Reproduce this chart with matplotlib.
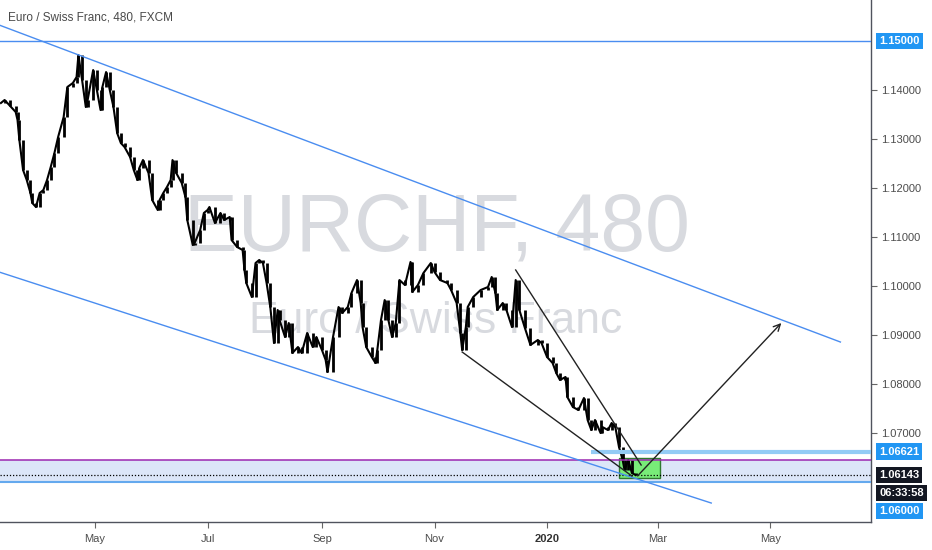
import matplotlib
matplotlib.use("Agg")
import matplotlib.pyplot as plt
import matplotlib.dates as mdates
import matplotlib.transforms as mtransforms
import numpy as np
import pandas as pd

# EURCHF 480-min closes
dates = [
    "2019-03-11", "2019-03-13", "2019-03-16", "2019-03-19", "2019-03-20", "2019-03-21",
    "2019-03-23", "2019-03-25", "2019-03-27", "2019-03-28", "2019-03-30", "2019-04-01",
    "2019-04-03", "2019-04-05", "2019-04-07", "2019-04-09", "2019-04-11", "2019-04-14",
    "2019-04-16", "2019-04-19", "2019-04-21", "2019-04-22", "2019-04-24", "2019-04-26",
    "2019-04-27", "2019-04-30", "2019-05-02", "2019-05-04", "2019-05-05", "2019-05-07",
    "2019-05-09", "2019-05-11", "2019-05-13", "2019-05-15", "2019-05-17", "2019-05-20",
    "2019-05-22", "2019-05-24", "2019-05-25", "2019-05-27", "2019-05-30", "2019-06-01",
    "2019-06-04", "2019-06-05", "2019-06-07", "2019-06-09", "2019-06-11", "2019-06-12",
    "2019-06-14", "2019-06-17", "2019-06-19", "2019-06-20", "2019-06-23", "2019-06-24",
    "2019-06-27", "2019-06-29", "2019-07-01", "2019-07-02", "2019-07-05", "2019-07-08",
    "2019-07-10", "2019-07-13", "2019-07-14", "2019-07-17", "2019-07-20", "2019-07-21",
    "2019-07-22", "2019-07-25", "2019-07-27", "2019-07-29", "2019-07-31", "2019-08-02",
    "2019-08-04", "2019-08-06", "2019-08-08", "2019-08-09", "2019-08-12", "2019-08-14",
    "2019-08-16", "2019-08-19", "2019-08-21", "2019-08-24", "2019-08-27", "2019-08-29",
    "2019-09-01", "2019-09-03", "2019-09-04", "2019-09-07", "2019-09-10", "2019-09-12",
    "2019-09-15", "2019-09-17", "2019-09-20", "2019-09-22", "2019-09-23", "2019-09-25",
    "2019-09-28", "2019-09-30", "2019-10-01", "2019-10-03", "2019-10-05", "2019-10-07",
    "2019-10-09", "2019-10-11", "2019-10-13", "2019-10-16", "2019-10-19", "2019-10-20",
    "2019-10-23", "2019-10-26", "2019-10-30", "2019-11-01", "2019-11-04", "2019-11-08",
    "2019-11-10", "2019-11-13", "2019-11-15", "2019-11-16", "2019-11-18", "2019-11-19",
    "2019-11-22", "2019-11-26", "2019-11-30", "2019-12-02", "2019-12-04", "2019-12-05",
    "2019-12-08", "2019-12-10", "2019-12-13", "2019-12-15", "2019-12-17", "2019-12-20",
    "2019-12-23", "2019-12-27", "2019-12-29", "2020-01-01", "2020-01-04", "2020-01-06",
    "2020-01-08", "2020-01-11", "2020-01-12", "2020-01-15", "2020-01-18", "2020-01-21",
    "2020-01-23", "2020-01-25", "2020-01-27", "2020-01-30", "2020-01-31", "2020-02-03",
    "2020-02-05", "2020-02-07", "2020-02-09", "2020-02-11", "2020-02-12", "2020-02-14",
    "2020-02-16", "2020-02-18",
]
closes = [
    1.13735, 1.13796, 1.13673, 1.13551, 1.13388, 1.12980,
    1.12367, 1.12163, 1.11898, 1.11694, 1.11612, 1.11898,
    1.11959, 1.12163, 1.12429, 1.12714, 1.13041, 1.13449,
    1.14061, 1.14143, 1.14265, 1.14714, 1.14204, 1.13653,
    1.13796, 1.14408, 1.14000, 1.13592, 1.14061, 1.14367,
    1.14000, 1.13653, 1.13122, 1.12918, 1.12837, 1.12633,
    1.12367, 1.12163, 1.12408, 1.12571, 1.12306, 1.11755,
    1.11551, 1.11755, 1.11898, 1.12020, 1.12163, 1.12571,
    1.12306, 1.12102, 1.11816, 1.11347, 1.10837, 1.10878,
    1.11143, 1.11490, 1.11551, 1.11612, 1.11286, 1.11490,
    1.11347, 1.11408, 1.10939, 1.10796, 1.10735, 1.10327,
    1.10061, 1.09776, 1.10469, 1.10531, 1.10469, 1.10061,
    1.09571, 1.08837, 1.09510, 1.09306, 1.08959, 1.09245,
    1.08633, 1.08755, 1.08633, 1.09041, 1.08755, 1.08959,
    1.08694, 1.08490, 1.08245, 1.08959, 1.09571, 1.09449,
    1.09571, 1.09857, 1.10122, 1.09653, 1.09163, 1.08755,
    1.08551, 1.08429, 1.08694, 1.09306, 1.09714, 1.09306,
    1.08959, 1.09245, 1.10122, 1.10020, 1.10490, 1.09878,
    1.10020, 1.10265, 1.10469, 1.10286, 1.10122, 1.10061,
    1.09918, 1.09653, 1.09041, 1.08694, 1.09163, 1.09571,
    1.09776, 1.09918, 1.09980, 1.10184, 1.09857, 1.09510,
    1.09653, 1.09510, 1.09163, 1.10122, 1.09510, 1.09143,
    1.08796, 1.08898, 1.08837, 1.08551, 1.08429, 1.08224,
    1.08082, 1.08143, 1.07735, 1.07531, 1.07469, 1.07714,
    1.07265, 1.07061, 1.07265, 1.07000, 1.07122, 1.07061,
    1.07204, 1.07122, 1.06714, 1.06449, 1.06245, 1.06449,
    1.06184, 1.06143,
]

price_ticks = [1.07, 1.08, 1.09, 1.10, 1.11, 1.12, 1.13, 1.14]
time_ticks = ["2019-05-01", "2019-07-01", "2019-09-01", "2019-11-01",
              "2020-01-01", "2020-03-01", "2020-05-01"]
time_labels = ["May", "Jul", "Sep", "Nov", "2020", "Mar", "May"]

# horizontal levels
level_top = 1.15
level_resist = 1.06621
resist_from = "2020-01-25"
zone_top = 1.0645
level_support = 1.06
last_price = 1.06143
countdown = "06:33:58"

# drawings (date, price) endpoints
channel_upper = (["2019-03-10", "2020-06-08"], [1.15327, 1.08857])
channel_lower = (["2019-03-10", "2020-03-30"], [1.10286, 1.05571])
wedge_lower = (["2019-11-16", "2020-02-16"], [1.08653, 1.06122])
wedge_upper = (["2019-12-15", "2020-02-21"], [1.10327, 1.06347])
target_arrow = (["2020-02-18", "2020-05-08"], [1.06082, 1.09286])
box_dates = ["2020-02-09", "2020-03-02"]
box_prices = [1.06082, 1.06490]

FONT = "Liberation Sans"
AXIS_COL = "#4d4d4d"


def d(s):
    return mdates.date2num(pd.Timestamp(s))


fig = plt.figure(figsize=(9.32, 5.5), dpi=100)
ax = fig.add_axes([0, 28 / 550, 871 / 932, 522 / 550])
ax.set_facecolor("white")

ax.set_xlim(d("2019-03-10 12:00"), d("2020-06-24 14:00"))
ax.set_ylim(1.05184, 1.15837)

# watermark
ax.text(0.502, 0.521, "EURCHF, 480", transform=ax.transAxes, ha="center",
        va="baseline", fontsize=58, color="#d8dadf", family=FONT, zorder=0)
ax.text(0.5, 0.362, "Euro / Swiss Franc", transform=ax.transAxes, ha="center",
        va="baseline", fontsize=32, color="#d8dadf", family=FONT, zorder=0)

# support zone + levels
ax.axhspan(level_support, zone_top, color="#dce6f8", lw=0, zorder=1)
ax.axhline(zone_top, color="#9c27b0", lw=1.1, zorder=4)
ax.axhline(level_support, color="#64a9ee", lw=1.5, zorder=4)
ax.axhline(level_top, color="#4a8df0", lw=1, zorder=4)
ax.axhline(last_price, color="black", lw=0.9, ls=(0, (1, 1.5)), zorder=4)
ax.hlines(level_resist, d(resist_from), ax.get_xlim()[1], color="#93cbf5",
          lw=3, zorder=4)

# green box
bx0, bx1 = d(box_dates[0]), d(box_dates[1])
ax.add_patch(plt.Rectangle((bx0, box_prices[0]), bx1 - bx0,
                           box_prices[1] - box_prices[0],
                           fc="#78ec78", ec="#2f7a2f", lw=1, zorder=2))

# price series
x = np.array([d(s) for s in dates])
c = np.array(closes)
ax.vlines(x[1:], np.minimum(c[:-1], c[1:]), np.maximum(c[:-1], c[1:]),
          color="black", lw=2.0, zorder=3)
ax.plot(x, c, color="black", lw=1.5, zorder=3)

# trend lines
for (ds, ps), col in [(channel_upper, "#4a8df0"), (channel_lower, "#4a8df0"),
                      (wedge_lower, "#222222"), (wedge_upper, "#222222")]:
    ax.plot([d(s) for s in ds], ps, color=col, lw=1, zorder=4)

ax.annotate("", xy=(d(target_arrow[0][1]), target_arrow[1][1]),
            xytext=(d(target_arrow[0][0]), target_arrow[1][0]),
            arrowprops=dict(arrowstyle="->", color="#222222", lw=1,
                            mutation_scale=12), zorder=5)

# axes styling
for side in ["top", "left"]:
    ax.spines[side].set_visible(False)
for side in ["right", "bottom"]:
    ax.spines[side].set_color("#50535e")
    ax.spines[side].set_linewidth(1)

ax.yaxis.tick_right()
ax.set_yticks(price_ticks)
ax.set_yticklabels([f"{p:.5f}" for p in price_ticks])
ax.tick_params(axis="y", length=4, color="#666666", labelcolor=AXIS_COL,
               labelsize=8, pad=3)
ax.set_xticks([d(s) for s in time_ticks])
ax.set_xticklabels(time_labels)
ax.tick_params(axis="x", length=4, color="#666666", labelcolor=AXIS_COL,
               labelsize=8, pad=5)
for lab in ax.get_yticklabels() + ax.get_xticklabels():
    lab.set_family(FONT)
ax.get_xticklabels()[4].set_fontweight("bold")
ax.get_xticklabels()[4].set_color("#333333")

# highlighted price labels on the scale
trans = mtransforms.blended_transform_factory(ax.transAxes, ax.transData)
boxed = [
    (level_top, 0, f"{level_top:.5f}", "#2196f3"),
    (level_resist, 0, f"{level_resist:.5f}", "#2196f3"),
    (last_price, 0, f"{last_price:.5f}", "#131722"),
    (last_price, -18, countdown, "#131722"),
    (last_price, -36, f"{level_support:.5f}", "#2196f3"),
]
for price, dy, txt, bg in boxed:
    ax.annotate(txt, xy=(1.0, price), xycoords=trans, xytext=(8, dy),
                textcoords="offset pixels", ha="left", va="center",
                fontsize=8, fontweight="bold", color="white", family=FONT,
                bbox=dict(boxstyle="square,pad=0.3", fc=bg, ec="none"),
                annotation_clip=False, zorder=6)

fig.text(8 / 932, 1 - 17 / 550, "Euro / Swiss Franc, 480, FXCM", ha="left",
         va="center", fontsize=8.5, color="#4a4a4a", family=FONT)

fig.savefig("out.png", dpi=100, facecolor="white")
plt.close(fig)
